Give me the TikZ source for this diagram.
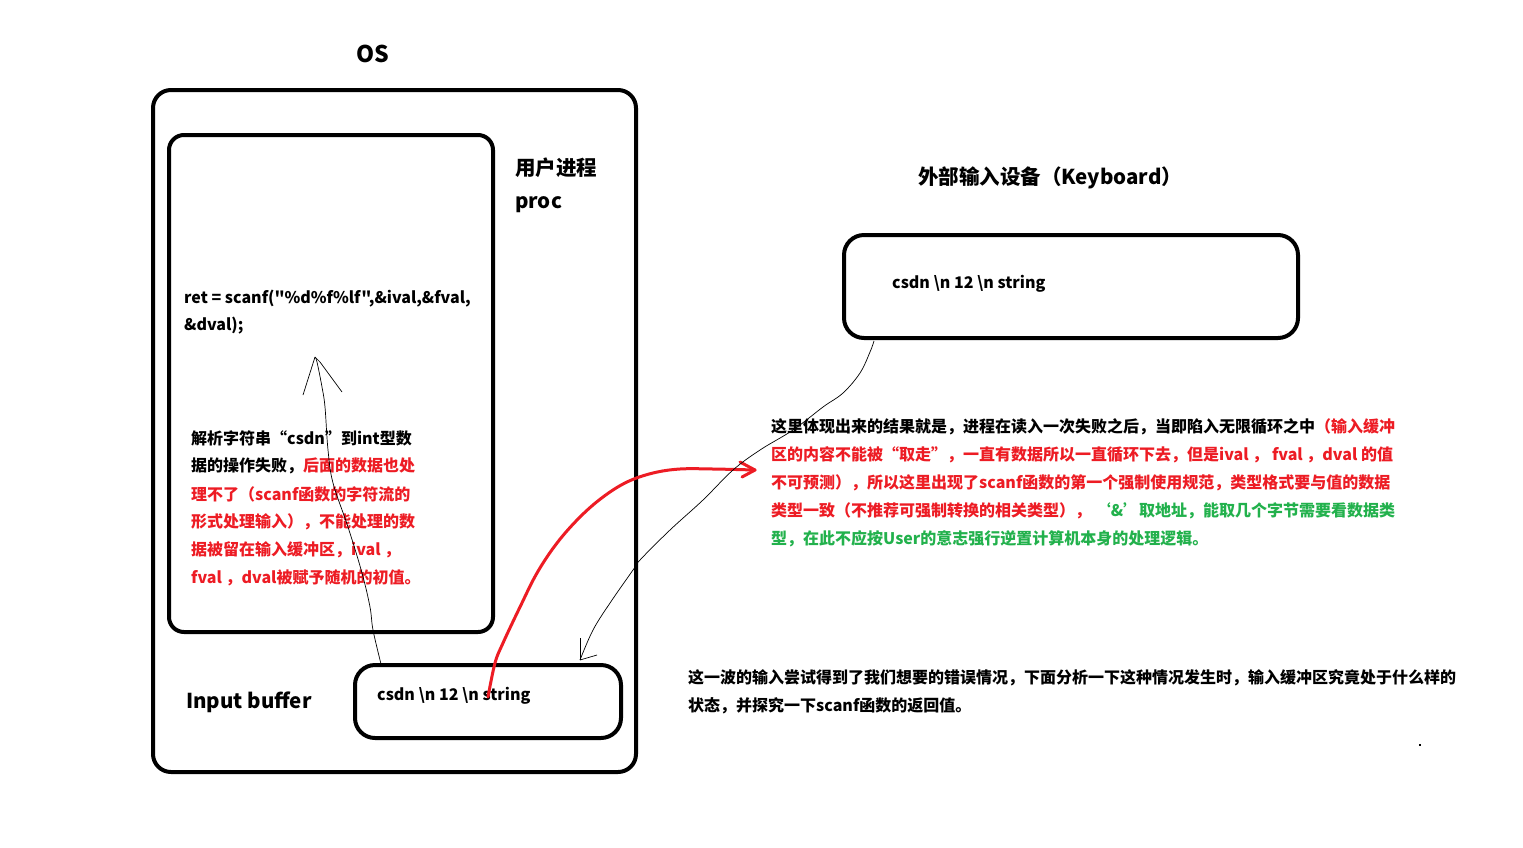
\documentclass[tikz,border=0pt]{standalone}
\usepackage{fontspec}
\setmainfont{Noto Sans CJK SC}
\newfontfamily\codefont{Noto Sans CJK SC}
\definecolor{pred}{RGB}{237,28,36}
\definecolor{pgreen}{RGB}{34,177,76}
\begin{document}
\begin{tikzpicture}[x=1pt,y=-1pt,
  frame/.style={draw=black,line width=4pt,rounded corners=18pt,inner sep=0pt},
  txt/.style={anchor=west,inner sep=0pt,font=\bfseries\fontsize{16}{16}\selectfont},
  big/.style={inner sep=0pt,font=\bfseries\fontsize{20.5}{20.5}\selectfont},
  thin/.style={draw=black,line width=0.7pt},
  redline/.style={draw=pred,line width=3pt,line cap=round,line join=round}]
\useasboundingbox (0,0) rectangle (1523,847);
\fill[white] (0,0) rectangle (1523,847);

% boxes
\node[frame,minimum width=483pt,minimum height=682pt] (os) at (394.5,431) {};
\node[frame,rounded corners=15pt,minimum width=324pt,minimum height=497pt] (proc) at (331,383.5) {};
\node[frame,rounded corners=20pt,minimum width=266pt,minimum height=73pt] (buf) at (488,701.5) {};
\node[frame,rounded corners=20pt,minimum width=454pt,minimum height=103pt] (kbd) at (1071,286.5) {};

% titles
\node[big,font=\bfseries\fontsize{23}{23}\selectfont] (ostitle) at (373,54) {OS};
\node[big,anchor=west] (proctitle) at (515,168) {用户进程};
\node[big,anchor=west] (procname) at (515,205) {proc};
\node[big,anchor=west] (buftitle) at (186,702) {Input buffer};
\node[big] (kbdtitle) at (1050,178) {外部输入设备（Keyboard）};

% box texts
\node[txt,font=\codefont\bfseries\fontsize{16}{16}\selectfont] (code1) at (184,299) {ret = scanf("\%d\%f\%lf",\&ival,\&fval,};
\node[txt] (code2) at (184,326) {\&dval);};
\node[txt] (buftxt) at (377,696) {csdn \textbackslash n 12 \textbackslash n string};
\node[txt] (kbdtxt) at (892,284) {csdn \textbackslash n 12 \textbackslash n string};

% left paragraph
\node[txt] (l1) at (191,438) {解析字符串“csdn”到int型数};
\node[txt] (l2) at (191,466) {据的操作失败，\textcolor{pred}{后面的数据也处}};
\node[txt,text=pred] (l3) at (191,494) {理不了（scanf函数的字符流的};
\node[txt,text=pred] (l4) at (191,522) {形式处理输入），不能处理的数};
\node[txt,text=pred] (l5) at (191,550) {据被留在输入缓冲区，ival ，};
\node[txt,text=pred] (l6) at (191,578) {fval ，dval被赋予随机的初值。};

% right paragraph
\node[txt] (r1) at (771,427) {这里体现出来的结果就是，进程在读入一次失败之后，当即陷入无限循环之中\textcolor{pred}{（输入缓冲}};
\node[txt,text=pred] (r2) at (771,455) {区的内容不能被“取走”，一直有数据所以一直循环下去，但是ival ， fval ，dval 的值};
\node[txt,text=pred] (r3) at (771,483) {不可预测），所以这里出现了scanf函数的第一个强制使用规范，类型格式要与值的数据};
\node[txt,text=pred] (r4) at (771,511) {类型一致（不推荐可强制转换的相关类型）， \textcolor{pgreen}{‘\&’取地址，能取几个字节需要看数据类}};
\node[txt,text=pgreen] (r5) at (771,539) {型，在此不应按User的意志强行逆置计算机本身的处理逻辑。};

% bottom paragraph
\node[txt] (b1) at (688,678) {这一波的输入尝试得到了我们想要的错误情况，下面分析一下这种情况发生时，输入缓冲区究竟处于什么样的};
\node[txt] (b2) at (688,706) {状态，并探究一下scanf函数的返回值。};

% connector: buffer -> scanf (thin, up)
\coordinate (upS) at (381,664);
\coordinate (upT) at (315,357);
\draw[thin] plot[smooth,tension=0.6] coordinates {(upS) (373,630) (370,607) (362,573) (348,527) (333,483) (328,450) (325,407) (322,387) (317,362) (upT)};
\draw[thin] (upT) -- (303,395);
\draw[thin] (upT) -- (320,362) -- (342,392);

% connector: buffer -> explanation (red)
\coordinate (rS) at (488,697);
\coordinate (rT) at (755,470);
\draw[redline] plot[smooth,tension=0.6] coordinates {(rS) (495,663) (503,643) (520,607) (537,573) (557,543) (580,517) (603,497) (627,482) (653,473) (680,469) (713,469) (rT)};
\draw[redline] (740,462) -- (rT) -- (742,477);

% connector: keyboard -> buffer (thin, down)
\coordinate (dS) at (874,341);
\coordinate (dT) at (580,660);
\draw[thin] plot[smooth,tension=0.6] coordinates {(dS) (870,352) (860,373) (843,393) (823,407) (793,430) (760,450) (733,470) (703,500) (670,530) (640,560) (633,570) (610,603) (593,630) (dT)};
\draw[thin] (dT) -- (580,638);
\draw[thin] (dT) -- (597,655);

\fill[black] (1419,744) rectangle (1421,746);
\end{tikzpicture}
\end{document}
